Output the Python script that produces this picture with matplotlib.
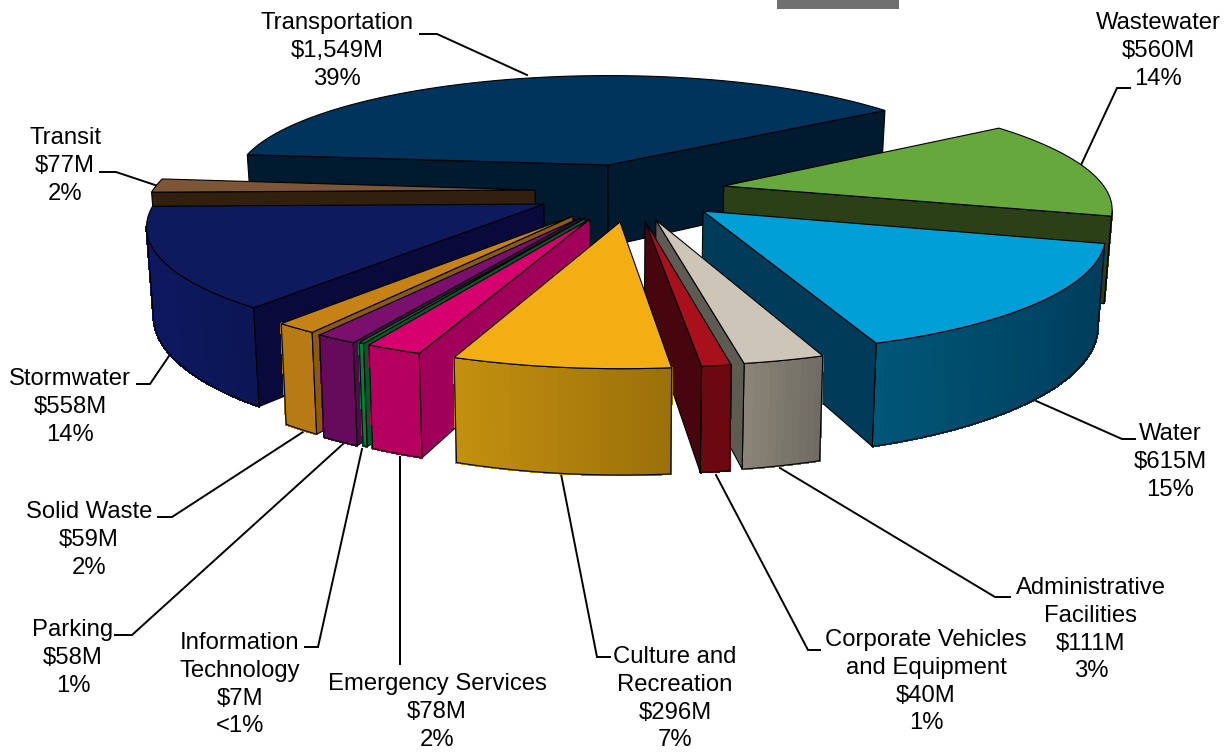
import numpy as np
import matplotlib
matplotlib.use('Agg')
import matplotlib.pyplot as plt
from matplotlib.patches import Polygon, Rectangle
from matplotlib.colors import to_rgb

plt.rcParams['font.family'] = ['Liberation Sans', 'DejaVu Sans']

# data, clockwise from the top-left edge of Transportation
names = ['Transportation', 'Wastewater', 'Water', 'Administrative\nFacilities',
         'Corporate Vehicles\nand Equipment', 'Culture and\nRecreation',
         'Emergency Services', 'Information\nTechnology', 'Parking',
         'Solid Waste', 'Stormwater', 'Transit']
values = [1549, 560, 615, 111, 40, 296, 78, 7, 58, 59, 558, 77]
percents = ['39%', '14%', '15%', '3%', '1%', '7%', '2%', '<1%', '1%', '2%', '14%', '2%']

# explode offset of each slice on the pie plane, in radii
explode_x = [-0.011, 0.294, 0.231, 0.110, 0.0826, 0.020, -0.0554, -0.0677, -0.0804, -0.0985, -0.1744, -0.201]
explode_y = [-0.278, -0.081, 0.139, 0.214, 0.222, 0.230, 0.2055, 0.197, 0.197, 0.181, 0.079, -0.0446]

top_colors = ['#01345c', '#66a83c', '#009fd8', '#cdc5b7', '#a8101c', '#f2ae12',
              '#d6006e', '#0a7a3f', '#7a0f6e', '#c68215', '#0e1a5e', '#7d5638']
wall_colors = ['#001a2f', '#2c4017', '#003c5a', '#5e5b53', '#47050d', '#7a5a08',
               '#a0005a', '#005c2a', '#500a4a', '#8a5a10', '#09093c', '#32200f']
side_left = ['#001a2f', '#3a5a1a', '#005778', '#8b8478', '#6b0810', '#c4900f',
             '#b5005f', '#0a7a3f', '#660a5c', '#b87a14', '#0d1860', '#32200f']
side_right = ['#001a2f', '#3a5a1a', '#003d5c', '#6f6b63', '#6b0810', '#9a700a',
              '#b5005f', '#0a7a3f', '#660a5c', '#b87a14', '#0c1655', '#32200f']
draw_order = [0, 1, 11, 10, 2, 9, 8, 7, 6, 3, 4, 5]

# label position of the first text line, centre x and y
label_x = [337, 1158, 1170, 1091, 926, 675, 437, 240, 73, 89, 70, 65]
label_y = [21, 21, 432, 586, 638, 655, 682, 641, 628, 510, 377, 136]
leaders = [[(420, 34), (437, 34), (527, 75)],
           [(1130, 88), (1117, 88), (1081, 165)],
           [(1135, 439), (1122, 439), (1034, 400)],
           [(1010, 597), (995, 597), (780, 468)],
           [(820, 650), (808, 650), (716, 475)],
           [(610, 657), (597, 657), (561, 474)],
           [(400, 664), (400, 457)],
           [(305, 647), (318, 647), (362, 449)],
           [(115, 635), (132, 635), (343, 444)],
           [(158, 517), (172, 517), (303, 432)],
           [(137, 384), (150, 384), (169, 356)],
           [(100, 172), (116, 172), (158, 186)]]

CX, CY = 612, 195
RX, RY = 385, 112.9
PERSP = 0.163
HEIGHT = 85
BOTTOM_SCALE = 0.985
START = -174.2


def project(x, y, bottom=False):
    p = 1 / (1 - PERSP * y)
    sx = RX * x * p
    sy = RY * y * p
    if bottom:
        return CX + sx * BOTTOM_SCALE, CY + sy + HEIGHT * p
    return CX + sx, CY + sy


def quad(ax, a, b, color, edge='black'):
    # vertical wall between plane points a and b
    pts = [project(*a), project(*b), project(*b, bottom=True), project(*a, bottom=True)]
    ax.add_patch(Polygon(pts, closed=True, facecolor=color, edgecolor=edge, linewidth=0.8))


fig = plt.figure(figsize=(12.3, 7.52), dpi=100)
ax = fig.add_axes([0, 0, 1, 1])
ax.set_xlim(0, 1230)
ax.set_ylim(752, 0)
ax.axis('off')

ax.add_patch(Rectangle((777, 0), 122, 9, facecolor='#707070', edgecolor='none'))

sweeps = np.array(values) / sum(values) * 360
starts = START + np.concatenate([[0], np.cumsum(sweeps)[:-1]])

for i in draw_order:
    a0, a1 = starts[i], starts[i] + sweeps[i]
    apex = (explode_x[i], explode_y[i])
    th = np.radians(np.linspace(a0, a1, max(int(sweeps[i]) + 2, 3)))
    rim = [(apex[0] + np.cos(t), apex[1] + np.sin(t)) for t in th]

    left, right = np.array(to_rgb(side_left[i])), np.array(to_rgb(side_right[i]))
    xs = [project(*q)[0] for q in rim]
    x_lo, x_hi = min(xs), max(xs)
    strip = []
    for j in range(len(rim) - 1):
        # rim only faces the viewer while it runs right to left on screen
        if xs[j + 1] >= xs[j]:
            continue
        f = ((xs[j] + xs[j + 1]) / 2 - x_lo) / max(x_hi - x_lo, 1)
        color = left + (right - left) * f
        pts = [project(*rim[j]), project(*rim[j + 1]),
               project(*rim[j + 1], bottom=True), project(*rim[j], bottom=True)]
        ax.add_patch(Polygon(pts, closed=True, facecolor=color, edgecolor=color,
                             linewidth=1.0, antialiased=False))
        strip.append(j)
    if strip:
        front = rim[strip[0]:strip[-1] + 2]
        outline = [project(*q) for q in front] + [project(*q, bottom=True) for q in front[::-1]]
        ax.add_patch(Polygon(outline, closed=True, facecolor='none', edgecolor='black', linewidth=0.8))

    # radial walls only when they face the viewer
    if -np.cos(np.radians(a0)) > 0:
        quad(ax, apex, rim[0], wall_colors[i])
    if np.cos(np.radians(a1)) > 0:
        quad(ax, apex, rim[-1], wall_colors[i])

    top = [project(*apex)] + [project(*q) for q in rim]
    ax.add_patch(Polygon(top, closed=True, facecolor=top_colors[i], edgecolor='black', linewidth=0.8))

for line in leaders:
    ax.plot([p[0] for p in line], [p[1] for p in line], color='black', linewidth=1.4,
            solid_joinstyle='miter', zorder=0.5)

for name, value, pct, x, y in zip(names, values, percents, label_x, label_y):
    rows = name.split('\n') + ['$%sM' % format(value, ','), pct]
    for k, row in enumerate(rows):
        ax.text(x, y + 2 + k * 27.8, row, ha='center', va='center', fontsize=17.2,
                color='black', parse_math=False)

fig.savefig('out.png', dpi=100)
